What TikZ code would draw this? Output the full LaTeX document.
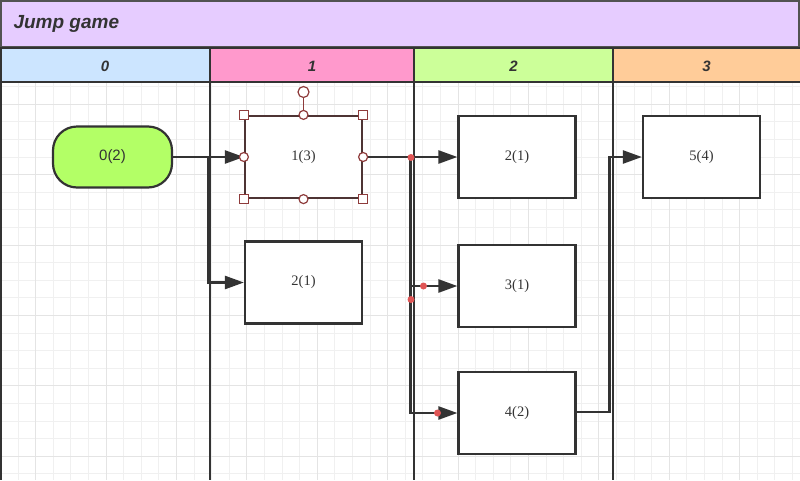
\documentclass[tikz,border=0pt]{standalone}
\usepackage{fontspec}
\setmainfont{Liberation Serif}
\newfontfamily\arialf{Liberation Sans}
\usetikzlibrary{arrows.meta}
\definecolor{linec}{HTML}{333333}
\definecolor{titlefill}{HTML}{E6CCFF}
\definecolor{laneA}{HTML}{CCE5FF}
\definecolor{laneB}{HTML}{FF99CC}
\definecolor{laneC}{HTML}{CCFF99}
\definecolor{laneD}{HTML}{FFCC99}
\definecolor{startfill}{HTML}{B3FF66}
\definecolor{selc}{HTML}{8E3B3B}
\definecolor{selbox}{HTML}{4E3434}
\definecolor{dotc}{HTML}{E05555}
\definecolor{gminor}{HTML}{F0F0F0}
\definecolor{gmajor}{HTML}{E4E4E4}
\begin{document}
\begin{tikzpicture}[x=1pt,y=-1pt,
  gridminor/.style={draw=gminor,line width=1pt},
  gridmajor/.style={draw=gmajor,line width=1pt},
  lanesep/.style={draw=linec,line width=2.5pt},
  headcell/.style={draw=linec,line width=2pt},
  headtext/.style={font=\arialf\bfseries\itshape\fontsize{15}{17}\selectfont,text=linec},
  box/.style={draw=linec,line width=2.2pt,fill=white,minimum width=117pt,minimum height=82pt,inner sep=0pt,font=\fontsize{14.5}{16}\selectfont,text=linec},
  startbox/.style={draw=linec,line width=2.2pt,fill=startfill,minimum width=119pt,minimum height=61pt,rounded corners=24pt,inner sep=0pt,font=\arialf\fontsize{15}{17}\selectfont,text=linec},
  edge/.style={draw=linec,line width=2.5pt,-{Triangle[length=19pt,width=13pt]}},
  hsq/.style={draw=selc,fill=white,line width=1.2pt,minimum size=9pt,inner sep=0pt,shape=rectangle},
  hci/.style={draw=selc,fill=white,line width=1.2pt,minimum size=9pt,inner sep=0pt,shape=circle},
  rdot/.style={fill=dotc,draw=none,circle,minimum size=7pt,inner sep=0pt}
]
\useasboundingbox (0,0) rectangle (800,480);
\fill[white] (0,0) rectangle (800,480);
% grid
\begin{scope}
\clip (0,82) rectangle (800,480);
\foreach \i in {0,...,45} {\pgfmathsetmacro\gx{floor(0.5+17.6*\i)+0.5}\draw[gridminor] (\gx,82) -- (\gx,480);}
\foreach \i in {0,...,27} {\pgfmathsetmacro\gy{floor(16.3+17.6*\i)+0.5}\draw[gridminor] (0,\gy) -- (800,\gy);}
\foreach \i in {0,...,11} {\pgfmathsetmacro\gx{floor(35.7+70.4*\i)+0.5}\draw[gridmajor] (\gx,82) -- (\gx,480);}
\foreach \i in {0,...,6} {\pgfmathsetmacro\gy{floor(33.9+70.4*\i)+0.5}\draw[gridmajor] (0,\gy) -- (800,\gy);}
\end{scope}
% title bar
\path[draw=linec!85,line width=2pt,fill=titlefill] (1,1) rectangle (799,47);
\node[font=\arialf\bfseries\itshape\fontsize{19}{21}\selectfont,text=linec,anchor=west] (title) at (10,24) {Jump game};
% lane headers
\path[headcell,fill=laneA] (1,48) rectangle (210,82);
\path[headcell,fill=laneB] (210,48) rectangle (414,82);
\path[headcell,fill=laneC] (414,48) rectangle (613,82);
\path[headcell,fill=laneD] (613,48) rectangle (801,82);
\node[headtext] (l0) at (105,66) {0};
\node[headtext] (l1) at (312,66) {1};
\node[headtext] (l2) at (513.5,66) {2};
\node[headtext] (l3) at (706.5,66) {3};
% lane separators
\draw[lanesep] (1,48) -- (1,480);
\draw[lanesep] (210,48) -- (210,480);
\draw[lanesep] (414,48) -- (414,480);
\draw[lanesep] (613,48) -- (613,480);
% nodes
\node[startbox] (n0) at (112.5,157) {0(2)};
\node[box,draw=selbox] (n1) at (303.5,157) {1(3)};
\node[box] (n2a) at (303.5,282.5) {2(1)};
\node[box] (n2b) at (517,157) {2(1)};
\node[box] (n3) at (517,286) {3(1)};
\node[box] (n4) at (517,413) {4(2)};
\node[box] (n5) at (701.5,157) {5(4)};
% connectors
\coordinate (b0) at (208,157);
\coordinate (b1) at (410.5,157);
\coordinate (b2) at (609.5,412);
\draw[edge] (n0.east) -- (n1.west);
\draw[edge] (n0.east) -- (b0) |- (n2a.west);
\draw[edge] (n1.east) -- (n2b.west);
\draw[edge] (n1.east) -- (b1) |- (n3.west);
\draw[edge] (n1.east) -- (b1) |- (n4.west);
\draw[edge] (n4.east |- b2) -- (b2) |- (n5.west);
% waypoint dots
\node[rdot] (d1) at (411,157.5) {};
\node[rdot] (d2) at (423.5,286) {};
\node[rdot] (d3) at (411,299.5) {};
\node[rdot] (d4) at (437.5,413) {};
% selection handles
\draw[selc,line width=1.2pt] (n1.north) -- (303.5,97);
\node[hci,minimum size=11pt] (rot) at (303.5,92) {};
\node[hsq] (h1) at (n1.north west) {};
\node[hsq] (h2) at (n1.north east) {};
\node[hsq] (h3) at (n1.south west) {};
\node[hsq] (h4) at (n1.south east) {};
\node[hci] (h5) at (n1.north) {};
\node[hci] (h6) at (n1.south) {};
\node[hci] (h7) at (n1.west) {};
\node[hci] (h8) at (n1.east) {};
\end{tikzpicture}
\end{document}
